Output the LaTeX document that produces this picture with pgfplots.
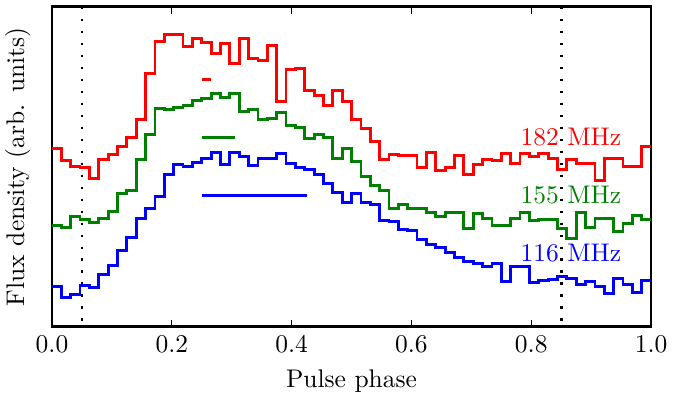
\documentclass[border=0pt]{standalone}
\usepackage{pgfplots}
\pgfplotsset{compat=1.18}
\usepackage{pgfplotstable}

\pgfplotstableread{
x r g b
0.000000 148.3 225.7 286.7
0.015625 160.7 228.0 297.3
0.031250 166.7 216.7 295.0
0.046875 167.7 219.3 285.7
0.062500 179.0 222.7 287.3
0.078125 160.0 219.0 275.0
0.093750 155.0 211.7 265.7
0.109375 147.0 194.0 251.0
0.125000 138.0 191.0 237.3
0.140625 119.7 159.3 219.0
0.156250 73.3 134.3 208.3
0.171875 41.7 108.3 196.7
0.187500 35.0 109.3 175.0
0.203125 35.0 107.7 164.3
0.218750 46.7 105.7 166.7
0.234375 39.0 101.0 162.3
0.250000 42.3 98.3 158.3
0.265625 53.3 93.3 152.3
0.281250 44.0 97.7 164.3
0.296875 63.3 93.3 152.3
0.312500 38.3 111.3 156.7
0.328125 59.0 110.0 165.7
0.343750 61.0 120.0 158.3
0.359375 45.7 118.7 158.3
0.375000 101.7 112.7 153.3
0.390625 70.0 126.0 164.0
0.406250 68.3 127.7 167.7
0.421875 90.7 138.7 170.0
0.437500 96.0 134.3 175.0
0.453125 105.7 137.7 183.3
0.468750 91.0 159.0 192.7
0.484375 101.7 149.0 202.7
0.500000 120.0 161.7 193.3
0.515625 129.0 176.7 202.7
0.531250 141.7 185.7 205.0
0.546875 160.0 190.7 221.0
0.562500 154.3 208.3 221.7
0.578125 156.0 205.0 230.0
0.593750 155.3 208.3 230.7
0.609375 167.3 208.3 239.3
0.625000 152.3 212.7 245.0
0.640625 170.7 216.7 248.0
0.656250 167.3 212.7 253.0
0.671875 156.0 213.0 258.0
0.687500 175.0 229.0 262.0
0.703125 165.0 213.3 264.0
0.718750 160.0 218.3 267.0
0.734375 160.5 225.5 264.0
0.750000 154.0 225.5 282.0
0.765625 163.5 218.3 267.0
0.781250 154.0 212.7 267.0
0.796875 156.5 220.5 283.0
0.812500 153.3 219.7 281.0
0.828125 158.3 219.5 280.0
0.843750 169.5 228.3 276.7
0.859375 159.5 238.3 278.5
0.875000 163.3 212.3 284.5
0.890625 163.3 227.3 281.7
0.906250 180.7 218.3 286.7
0.921875 158.3 218.3 293.3
0.937500 158.3 232.0 278.5
0.953125 166.7 224.0 285.0
0.968750 166.7 216.0 292.5
0.984375 146.7 220.0 281.0
1.000000 146.7 220.0 281.0
}\data

\definecolor{mplgreen}{RGB}{0,128,0}

\begin{document}
\begin{tikzpicture}
\begin{axis}[
  width=235pt, height=125.5pt, scale only axis,
  xmin=0, xmax=1, ymin=7, ymax=327, y dir=reverse,
  ytick=\empty,
  xtick={0,0.2,0.4,0.6,0.8,1},
  xticklabel style={/pgf/number format/.cd, fixed, fixed zerofill, precision=1},
  tick align=inside,
  major tick length=2.8pt,
  every tick/.style={black, line width=0.5pt},
  axis line style={line width=1.1pt},
  xlabel={Pulse phase},
  ylabel={Flux density (arb. units)},
  ylabel style={at={(axis description cs:-0.057,0.5)}, anchor=center},
]
\addplot[black, line width=1pt, dash pattern=on 0.9pt off 3.8pt] coordinates {(0.05,7) (0.05,327)};
\addplot[black, line width=1pt, dash pattern=on 0.9pt off 3.8pt] coordinates {(0.85,7) (0.85,327)};
\addplot[red, line width=1.1pt, const plot] table[x=x, y=r] {\data};
\addplot[mplgreen, line width=1.1pt, const plot] table[x=x, y=g] {\data};
\addplot[blue, line width=1.1pt, const plot] table[x=x, y=b] {\data};
\addplot[red, line width=1.1pt] coordinates {(0.25,79.3) (0.2654,79.3)};
\addplot[mplgreen, line width=1.1pt] coordinates {(0.25,137.3) (0.306,137.3)};
\addplot[blue, line width=1.1pt] coordinates {(0.25,195.7) (0.426,195.7)};
\node[red, anchor=base, inner sep=0pt] at (axis cs:0.866,146) {182 MHz};
\node[mplgreen, anchor=base, inner sep=0pt] at (axis cs:0.866,203.3) {155 MHz};
\node[blue, anchor=base, inner sep=0pt] at (axis cs:0.866,261.7) {116 MHz};
\end{axis}
\pgfresetboundingbox
\path[use as bounding box] (-20.4pt,-26.3pt) rectangle (248.7pt,128.2pt);
\end{tikzpicture}
\end{document}
